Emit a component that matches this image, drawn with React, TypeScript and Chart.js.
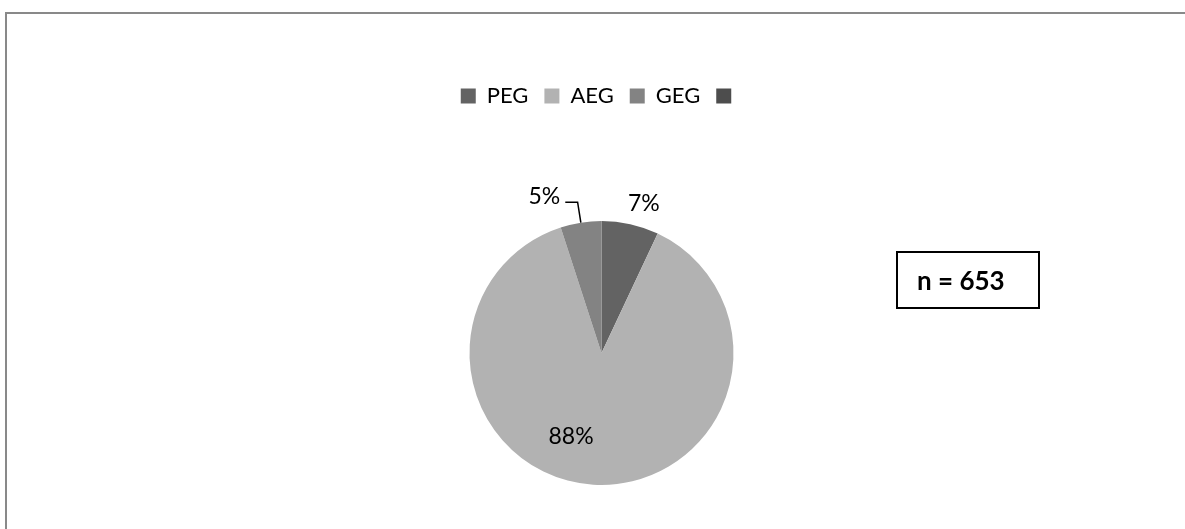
import React, { useEffect, useRef } from "react";
import { Chart, registerables } from "chart.js";

Chart.register(...registerables);

const categories = ["PEG", "AEG", "GEG", ""];
const percentValues = [7, 88, 5, 0];
const sliceColors = ["#636363", "#b2b2b2", "#838383", "#4d4d4d"];
const sampleSizeLabel = "n = 653";

// label placement relative to each slice (factor of radius, angle nudge in degrees)
const labelRadiusFactors = [1.18, 0.675, 1.265];
const labelAngleNudgesDeg = [3.2, 16.4, -11];
const labelHasLeader = [false, false, true];

const FONT = "Lato, 'Open Sans', sans-serif";

const pieLabels = {
  id: "pieLabels",
  afterDatasetsDraw(chart: any) {
    const ctx = chart.ctx as CanvasRenderingContext2D;
    const meta = chart.getDatasetMeta(0);
    ctx.save();
    ctx.font = `23px ${FONT}`;
    ctx.fillStyle = "#000";
    ctx.textAlign = "center";
    ctx.textBaseline = "middle";
    meta.data.forEach((arc: any, i: number) => {
      const v = percentValues[i];
      if (!v) return;
      const { x, y, startAngle, endAngle, outerRadius } = arc.getProps(
        ["x", "y", "startAngle", "endAngle", "outerRadius"],
        true
      );
      const mid = (startAngle + endAngle) / 2;
      const a = mid + (labelAngleNudgesDeg[i] * Math.PI) / 180;
      const lx = x + Math.cos(a) * outerRadius * labelRadiusFactors[i];
      const ly = y + Math.sin(a) * outerRadius * labelRadiusFactors[i];
      const text = `${v}%`;
      ctx.fillText(text, lx, ly);
      if (labelHasLeader[i]) {
        const w = ctx.measureText(text).width;
        const p0x = x + Math.cos(mid) * outerRadius;
        const p0y = y + Math.sin(mid) * outerRadius;
        const p1x = x + Math.cos(mid) * outerRadius * 1.157;
        const p1y = y + Math.sin(mid) * outerRadius * 1.157;
        const p2x = lx + w / 2 + 5;
        ctx.beginPath();
        ctx.strokeStyle = "#000";
        ctx.lineWidth = 1.5;
        ctx.moveTo(p0x, p0y);
        ctx.lineTo(p1x, p1y);
        ctx.lineTo(p2x, p1y);
        ctx.stroke();
      }
    });
    ctx.restore();
  },
};

export default function App() {
  const canvasRef = useRef<HTMLCanvasElement | null>(null);

  useEffect(() => {
    if (!canvasRef.current) return;
    const chart = new Chart(canvasRef.current, {
      type: "pie",
      data: {
        labels: categories,
        datasets: [
          {
            data: percentValues,
            backgroundColor: sliceColors,
            borderWidth: 0,
            radius: 132,
          } as any,
        ],
      },
      options: {
        responsive: false,
        animation: false,
        layout: { padding: { top: 55, left: 11, right: 0, bottom: 25 } },
        plugins: {
          legend: {
            position: "top",
            labels: {
              color: "#000",
              font: { family: FONT, size: 22 },
              boxWidth: 15,
              boxHeight: 15,
              padding: 16,
            },
          },
          tooltip: { enabled: false },
        },
      } as any,
      plugins: [pieLabels],
    });
    return () => chart.destroy();
  }, []);

  return (
    <div
      style={{
        position: "absolute",
        left: 0,
        top: 0,
        width: 1185,
        height: 529,
        overflow: "hidden",
        background: "#fff",
      }}
    >
      <div
        style={{
          position: "absolute",
          left: 5,
          top: 12,
          width: 1200,
          height: 600,
          borderLeft: "2px solid #898989",
          borderTop: "2px solid #898989",
        }}
      />
      <div
        style={{
          position: "absolute",
          left: 7,
          top: 14,
          width: 1178,
          height: 515,
          overflow: "hidden",
        }}
      >
        <canvas ref={canvasRef} width={1178} height={600} style={{ display: "block" }} />
      </div>
      <div
        style={{
          position: "absolute",
          left: 896,
          top: 251,
          width: 144,
          height: 58,
          border: "2px solid #000",
          boxSizing: "border-box",
          fontFamily: FONT,
          fontWeight: 700,
          fontSize: 26,
          lineHeight: "54px",
          paddingLeft: 19,
          color: "#000",
        }}
      >
        {sampleSizeLabel}
      </div>
    </div>
  );
}
